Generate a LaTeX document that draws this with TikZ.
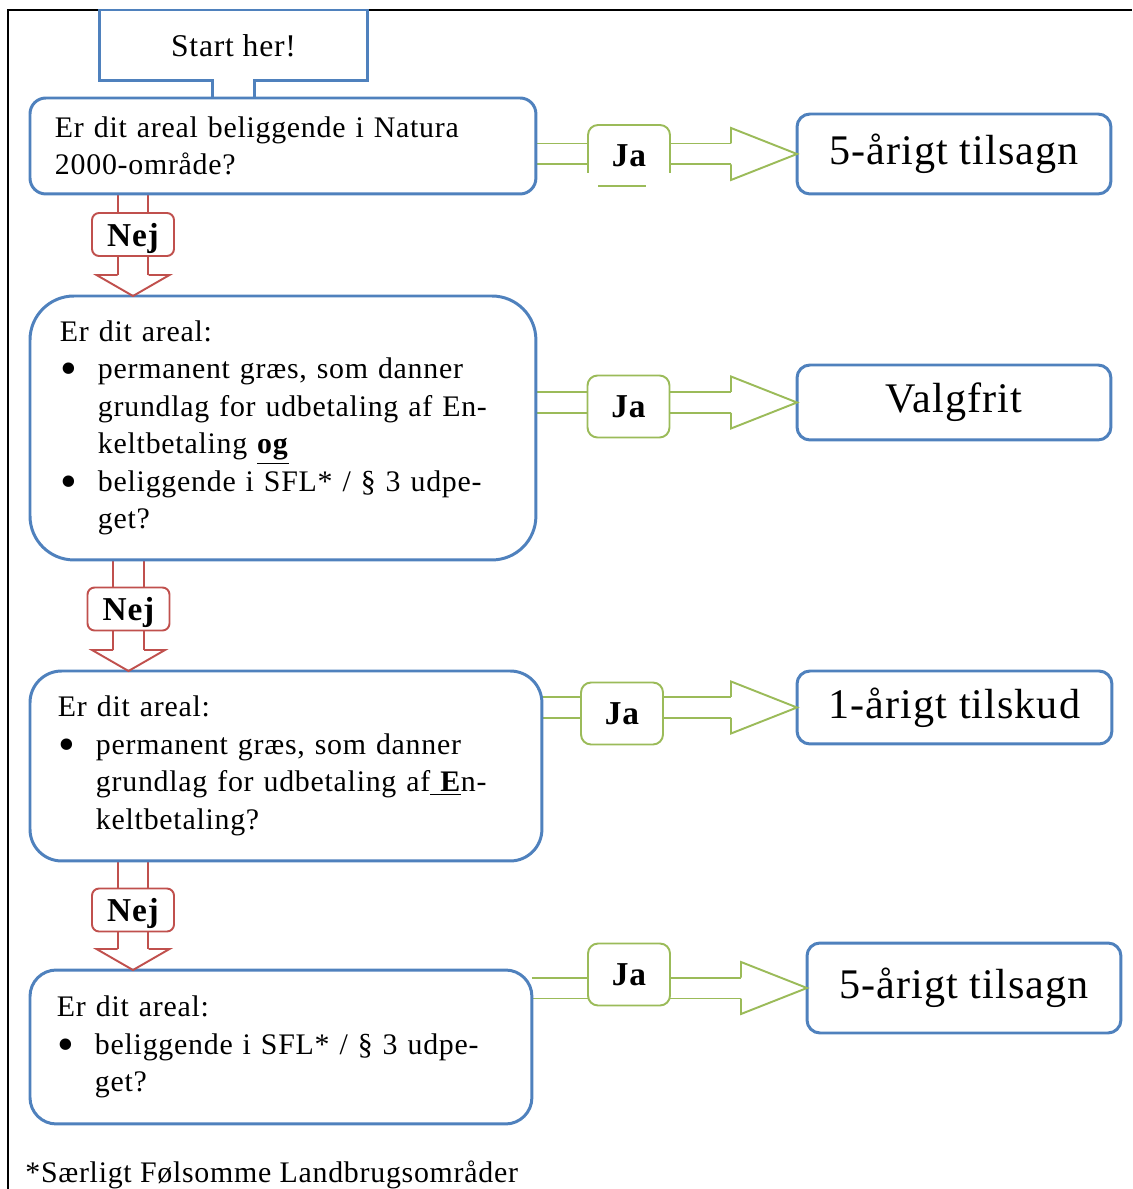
\documentclass[tikz,border=0pt]{standalone}
\usepackage{fontspec}
\setmainfont{Liberation Serif}[LetterSpace=2.5]
\usetikzlibrary{calc}
\pgfdeclarelayer{background}
\pgfsetlayers{background,main}
\definecolor{boxblue}{HTML}{4F81BD}
\definecolor{nejred}{HTML}{C0504D}
\definecolor{jagreen}{HTML}{9BBB59}
\newcommand{\itm}{\makebox[0.76cm][l]{\hspace{0.02cm}\raisebox{-0.2em}{\scalebox{1.6}{\textbullet}}}}
\newcommand{\ind}{\hspace*{0.76cm}}

\begin{document}
\begin{tikzpicture}[x=0.02cm,y=-0.02cm,
    qbox/.style={draw=boxblue,line width=1.7pt,fill=white,outer sep=0pt,anchor=north west,align=left,
      font=\fontsize{17}{21.3}\selectfont},
    obox/.style={draw=boxblue,line width=1.7pt,fill=white,outer sep=0pt,anchor=north west,
      rounded corners=7.4pt,font=\fontsize{24}{28}\selectfont},
    jabox/.style={draw=jagreen,line width=1.1pt,fill=white,outer sep=0pt,rounded corners=5.7pt,
      minimum width=1.64cm,minimum height=1.24cm,font=\fontsize{19}{22}\selectfont\bfseries},
    nejbox/.style={draw=nejred,line width=1.1pt,fill=white,outer sep=0pt,rounded corners=4pt,text depth=0pt,
      minimum width=1.64cm,minimum height=0.86cm,font=\fontsize{19}{22}\selectfont\bfseries},
    jastem/.style={draw=jagreen,line width=1.1pt,double=white,double distance=0.38cm},
    nejstem/.style={draw=nejred,line width=1.1pt,double=white,double distance=0.58cm},
    jahead/.style={jagreen,line width=1.1pt},
    nejhead/.style={nejred,line width=1.1pt}]
  \useasboundingbox (0,0) rectangle (1132,1189);

  % start
  \node[minimum width=5.38cm,minimum height=1.42cm,outer sep=0pt,font=\fontsize{18}{21}\selectfont] (start) at (233.5,45.5) {Start her!};

  % questions
  \node[qbox,rounded corners=9pt,minimum width=10.12cm,minimum height=1.92cm,text width=9.12cm,inner xsep=0.5cm] (q1) at (30,98)
    {Er dit areal beliggende i Natura\\2000-område?};
  \node[qbox,rounded corners=25pt,minimum width=10.12cm,minimum height=5.28cm,text width=8.92cm,inner xsep=0.6cm] (q2) at (30,296)
    {Er dit areal:\\
     \itm permanent græs, som danner\\
     \ind grundlag for udbetaling af En-\\
     \ind keltbetaling \underline{\textbf{og}}\\
     \itm beliggende i SFL* / § 3 udpe-\\
     \ind get?};
  \node[qbox,rounded corners=18pt,minimum width=10.24cm,minimum height=3.8cm,text width=9.12cm,inner xsep=0.56cm] (q3) at (30,671)
    {Er dit areal:\\
     \itm permanent græs, som danner\\
     \ind grundlag for udbetaling af\underline{\textbf{\ E}}n-\\
     \ind keltbetaling?};
  \node[qbox,rounded corners=15pt,minimum width=10.04cm,minimum height=3.08cm,text width=8.96cm,inner xsep=0.54cm] (q4) at (30,970)
    {Er dit areal:\\
     \itm beliggende i SFL* / § 3 udpe-\\
     \ind get?};

  % answers
  \node[obox,minimum width=6.28cm,minimum height=1.6cm] (o1) at (797,114) {5-årigt tilsagn};
  \node[obox,minimum width=6.28cm,minimum height=1.5cm] (o2) at (797,365) {Valgfrit};
  \node[obox,minimum width=6.3cm,minimum height=1.46cm] (o3) at (797,671) {1-årigt tilskud};
  \node[obox,minimum width=6.28cm,minimum height=1.8cm] (o4) at (807,943) {5-årigt tilsagn};

  % ja / nej
  \node[jabox,draw=none] (ja1) at (629,156) {Ja};
  \node[jabox] (ja2) at (628.5,406.5) {Ja};
  \node[jabox] (ja3) at (622,713.5) {Ja};
  \node[jabox] (ja4) at (629,974.5) {Ja};
  \draw[jahead,rounded corners=5.7pt] ($(ja1.south west)+(0,-14)$) -- (ja1.north west) -- (ja1.north east) -- ($(ja1.south east)+(0,-14)$);
  \draw[jahead] ($(ja1.south west)+(10,-1)$) -- ($(ja1.south east)+(-24,-1)$);
  \node[nejbox] (n1) at (133,234.5) {Nej};
  \node[nejbox] (n2) at (128.5,609) {Nej};
  \node[nejbox] (n3) at (133,910) {Nej};

  \node[anchor=base west,inner sep=0pt,font=\fontsize{17}{21}\selectfont] (note) at (25,1182) {*Særligt Følsomme Landbrugsområder};

  \begin{pgfonlayer}{background}
    \draw[line width=1.5pt] (8,1189) -- (8,10) -- (1132,10);
    \coordinate (sl) at ($(start.south)+(-21,0)$);
    \coordinate (sr) at ($(start.south)+(21,0)$);
    \draw[draw=boxblue,line width=1.7pt,fill=white] (sl |- q1.north) -- (sl) -- (start.south west) -- (start.north west)
      -- (start.north east) -- (start.south east) -- (sr) -- (sr |- q1.north);
    \foreach \q/\j/\o in {q1/ja1/o1,q2/ja2/o2,q3/ja3/o3,q4/ja4/o4}{
      \draw[jastem] (\q.east |- \o.west) -- (\j.west |- \o.west);
      \draw[jastem] (\j.east |- \o.west) -- ($(\o.west)+(-66,0)$);
    }
    \foreach \n/\a/\b in {n1/q1/q2,n2/q2/q3,n3/q3/q4}{
      \draw[nejstem] (\n |- \a.south) -- (\n.north);
      \draw[nejstem] (\n.south) -- ($(\n |- \b.north)+(0,-21)$);
    }
  \end{pgfonlayer}

  % arrow heads
  \foreach \o in {o1,o2,o3,o4}
    \draw[jahead] ($(\o.west)+(-66,-10.5)$) -- ++(0,-15.5) -- (\o.west) -- ++(-66,26) -- ++(0,-15.5);
  \foreach \n/\b in {n1/q2,n2/q3,n3/q4}
    \draw[nejhead] ($(\n |- \b.north)+(-15.5,-21)$) -- ++(-21,0) -- (\n |- \b.north) -- ++(36.5,-21) -- ++(-21,0);
\end{tikzpicture}
\end{document}
